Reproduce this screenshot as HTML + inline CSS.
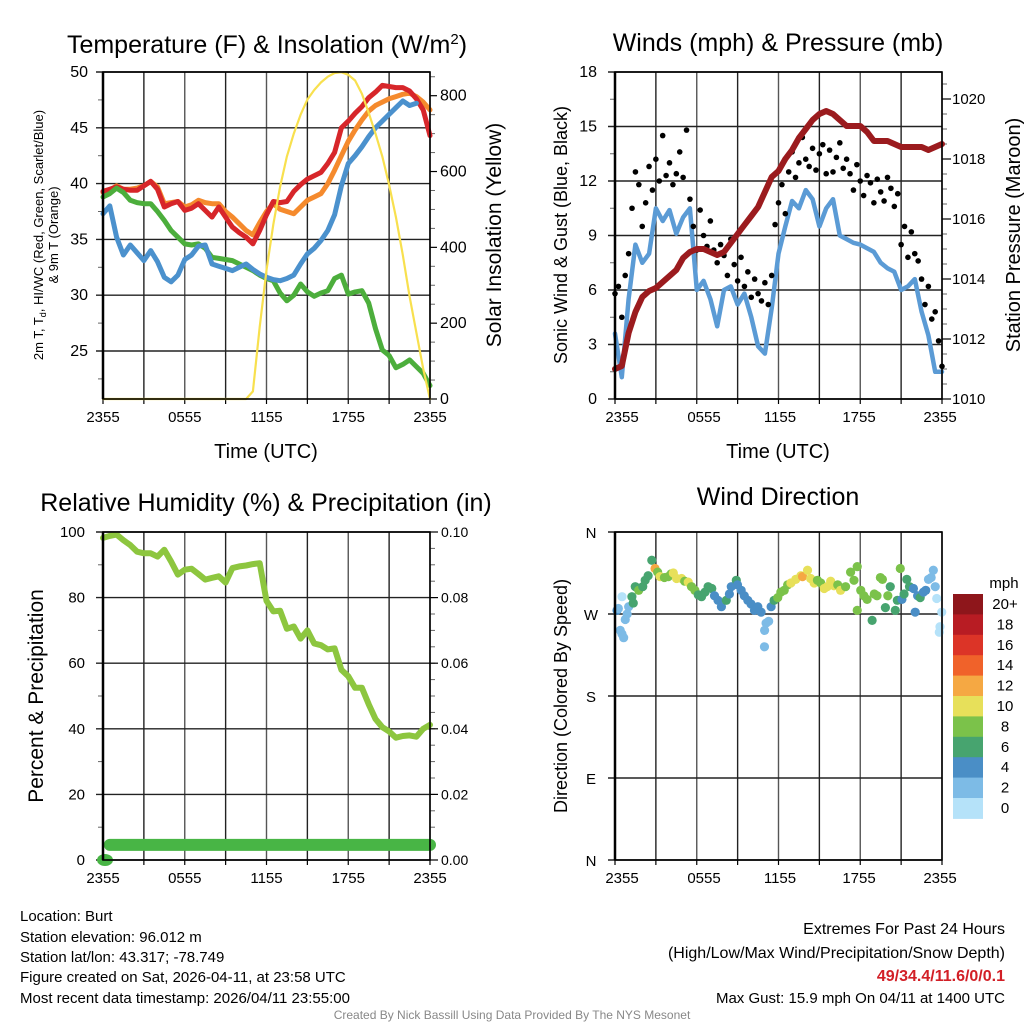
<!DOCTYPE html>
<html><head><meta charset="utf-8"><style>
html,body{margin:0;padding:0;background:#fff}
svg{display:block;font-family:"Liberation Sans",sans-serif}
</style></head><body>
<svg id="fig" width="1024" height="1024" viewBox="0 0 1024 1024" xmlns="http://www.w3.org/2000/svg">
<rect width="1024" height="1024" fill="#fff"/>
<text x="267" y="53" font-size="25" text-anchor="middle">Temperature (F) &amp; Insolation (W/m<tspan dy="-9" font-size="15">2</tspan><tspan dy="9">)</tspan></text>
<text x="778" y="51" font-size="25" text-anchor="middle">Winds (mph) &amp; Pressure (mb)</text>
<text x="266" y="511" font-size="25" text-anchor="middle">Relative Humidity (%) &amp; Precipitation (in)</text>
<text x="778" y="505" font-size="25" text-anchor="middle">Wind Direction</text>
<text x="266" y="458" font-size="20" text-anchor="middle">Time (UTC)</text>
<text x="778" y="458" font-size="20" text-anchor="middle">Time (UTC)</text>
<text transform="translate(43,235) rotate(-90)" font-size="13" text-anchor="middle">2m T, T<tspan font-size="9" dy="3">d</tspan><tspan dy="-3">, HI/WC (Red, Green, Scarlet/Blue)</tspan></text>
<text transform="translate(58,235) rotate(-90)" font-size="13" text-anchor="middle">&amp; 9m T (Orange)</text>
<text transform="translate(501,235) rotate(-90)" font-size="21" text-anchor="middle">Solar Insolation (Yellow)</text>
<text transform="translate(567,235) rotate(-90)" font-size="18" text-anchor="middle">Sonic Wind &amp; Gust (Blue, Black)</text>
<text transform="translate(1020,235) rotate(-90)" font-size="20" text-anchor="middle">Station Pressure (Maroon)</text>
<text transform="translate(43,696) rotate(-90)" font-size="21" text-anchor="middle">Percent &amp; Precipitation</text>
<text transform="translate(567,696) rotate(-90)" font-size="18" text-anchor="middle">Direction (Colored By Speed)</text>
<g font-size="15">
<text x="20" y="921">Location: Burt</text>
<text x="20" y="942">Station elevation: 96.012 m</text>
<text x="20" y="962">Station lat/lon: 43.317; -78.749</text>
<text x="20" y="982">Figure created on Sat, 2026-04-11, at 23:58 UTC</text>
<text x="20" y="1003">Most recent data timestamp: 2026/04/11 23:55:00</text>
</g>
<g font-size="16" text-anchor="end">
<text x="1005" y="934">Extremes For Past 24 Hours</text>
<text x="1005" y="958">(High/Low/Max Wind/Precipitation/Snow Depth)</text>
<text x="1005" y="981" fill="#d21f26" font-weight="bold">49/34.4/11.6/0/0.1</text>
<text x="1005" y="1003" font-size="15">Max Gust: 15.9 mph On 04/11 at 1400 UTC</text>
</g>
<text x="512" y="1019" font-size="12" fill="#888" text-anchor="middle">Created By Nick Bassill Using Data Provided By The NYS Mesonet</text>
</svg>
<script>
// ---------- data ----------
const xTickLabels = ["2355","0555","1155","1755","2355"];
const tempTicks = [25,30,35,40,45,50];
const insolTicks = [0,200,400,600,800];
const windTicks = [0,3,6,9,12,15,18];
const presTicks = [1010,1012,1014,1016,1018,1020];
const rhTicks = [0,20,40,60,80,100];
const precipTicks = ["0.00","0.02","0.04","0.06","0.08","0.10"];
const dirTickLabels = ["N","E","S","W","N"];
const speedBinLabels = ["0","2","4","6","8","10","12","14","16","18","20+"];

const tempRed = [39.3,39.5,39.7,39.5,39.4,39.4,39.8,40.2,39.5,37.9,38.2,38.4,37.6,37.8,38.2,37.6,37,37.9,37,36.1,35.6,35.2,34.6,35.8,37.2,38.4,38.3,38.4,39.3,39.9,40.4,40.7,41,41.8,42.8,45,45.6,46.3,46.9,47.7,48.2,48.8,48.7,48.6,48.6,48.3,47.6,46.6,44.3];
const temp9m = [39.2,39.4,39.8,39.5,39.5,39.6,39.8,40.2,39.7,38.2,38.3,38.4,37.9,38.1,38.5,38.3,38.2,38.2,37.5,37,36.4,35.8,35.4,36.5,37.5,38.2,37.7,37.5,37.3,37.9,38.5,38.8,39.1,40,41.2,42.5,43.8,44.8,45.7,46.5,47,47.3,47.6,47.8,48,48.1,47.8,47.3,46.6];
const dewpoint = [38.8,39.1,39.6,39.2,38.5,38.3,38.2,38.2,37.5,36.7,35.8,35.2,34.6,34.5,34.6,34.2,33.4,33.3,33.2,33.1,32.8,32.5,32.2,31.8,31.5,31.3,30.2,29.5,30,31,30.3,29.9,30.2,30.4,31.5,31.8,30.1,30.3,30.4,29.3,27,25.1,24.6,23.5,23.8,24.2,23.6,23,21.9];
const windChill = [37.3,38,35.2,33.6,34.5,33.8,33.1,34,33,31.6,31.2,31.8,33.2,33.6,34.4,34.5,32.8,32.6,32.4,32.2,32.5,32.8,32.3,31.9,31.6,31.4,31.3,31.5,31.8,32.8,33.7,34.2,34.9,35.8,37.2,39.8,41.8,42.5,43.3,44.2,45,45.6,46.2,46.8,47.4,47,47.2];
const insolation = [0,0,0,0,0,0,0,0,0,0,0,0,0,0,0,0,0,0,0,0,0,0,20,190,340,460,560,640,700,750,790,815,835,850,860,862,855,840,805,755,700,640,565,480,380,270,175,80,0];

const windSpeed = [3.6,1.2,5.5,8.5,7.5,8,10.5,9.8,10.4,9.1,10,10.5,6,6.5,5.5,4,6,6.2,5.2,5.8,4.5,2.9,2.5,5,8,9.5,10.9,10.5,11.5,11,9.5,10.5,11,9,8.8,8.6,8.5,8.3,8.1,7.5,7.2,7,6,6.2,6.6,4.8,3.5,1.5,1.5];
const gusts = [5.8,6.2,4.5,6.8,8,10.5,12.5,11.8,9.5,10.8,12.8,11.5,13.2,12,14.5,12.3,13,11.8,12.4,13.6,12.2,14.8,11,9.5,8.2,10.4,9,8.4,9.8,8.2,7.5,8.5,7.9,6.8,8.8,7.4,6.5,7.8,6.2,7,5.6,6.6,5.8,5.4,6.4,5.2,6.8,9.6,10.8,11.8,10.2,12.5,13.6,12.2,13,14.4,13.2,12.8,13.8,12.6,13.5,14.0,12.4,13.7,12.5,13.3,14.1,12.7,13.2,12.4,11.5,12.9,12,11.2,12.3,11.9,10.8,12.1,11.4,10.9,12.2,11.6,10.6,11.3,8.5,9.5,7.8,9.2,8,7.6,6.6,5.2,6.2,4.4,4.8,3.2,1.8];
const pressure = [1011.0,1011.1,1012.2,1012.9,1013.4,1013.6,1013.7,1013.9,1014.1,1014.3,1014.7,1014.9,1015,1015,1014.9,1014.8,1014.9,1015.2,1015.5,1015.8,1016.1,1016.4,1016.9,1017.4,1017.6,1018.0,1018.3,1018.7,1019.0,1019.3,1019.5,1019.6,1019.5,1019.3,1019.1,1019.1,1019.1,1018.9,1018.6,1018.6,1018.6,1018.5,1018.4,1018.4,1018.4,1018.4,1018.3,1018.4,1018.5];

const rh = [98.2,98.8,99.2,97.5,96,94,93.5,93.5,92.5,94.6,91,87,88.5,88.8,87.2,85.5,86,86.5,84.6,89,89.5,89.8,90.2,90.5,79,75.8,76,70.5,71.2,67.5,70,66,65.5,64.2,64.5,58,56,52.5,52.5,47.5,43,40.5,39.2,37.3,37.8,38,37.6,40,41.2];
const precip = [0,0.0046,0.0046,0.0046,0.0046,0.0046,0.0046,0.0046,0.0046,0.0046,0.0046,0.0046,0.0046,0.0046,0.0046,0.0046,0.0046,0.0046,0.0046,0.0046,0.0046,0.0046,0.0046,0.0046,0.0046,0.0046,0.0046,0.0046,0.0046,0.0046,0.0046,0.0046,0.0046,0.0046,0.0046,0.0046,0.0046,0.0046,0.0046,0.0046,0.0046,0.0046,0.0046,0.0046,0.0046,0.0046,0.0046,0.0046,0.0046];

const dirHours = [0,0.1,0.24,0.37,0.49,0.61,0.37,0.86,0.75,1.1,1.2,1.35,1.6,1.9,2.08,2.3,2.57,2.81,3.0,3.18,3.5,3.79,4.0,4.16,4.4,4.77,5.0,5.26,5.5,5.75,6.0,6.24,6.5,6.73,7.0,7.2,7.46,7.71,8.07,8.3,8.44,8.81,8.9,9.17,9.4,9.66,9.9,10.15,10.4,10.64,10.89,11.01,10.9,11.2,11.38,11.6,11.87,12.1,12.35,12.6,12.84,13.2,13.58,13.7,14.07,14.3,14.56,14.8,15.05,15.3,15.53,15.78,16.02,16.3,16.51,16.88,17.25,17.5,17.74,17.74,18.0,18.23,18.47,18.84,19.0,19.2,19.45,19.6,19.82,20.0,20.18,20.55,20.7,20.92,21.04,21.2,21.4,21.6,21.89,22.02,22.2,22.39,22.63,22.8,23.0,23.2,23.36,23.5,23.61,23.85,23.98,23.8];
const dirValues = [274,276,252,248,244,264,289,278,270,289,282,300,296,300,307,312,329,320,316,311,310,311,314,315,309,309,306,305,300,296,291,289,294,300,298,290,285,278,285,292,300,307,302,296,290,285,281,274,278,272,234,260,252,262,278,285,288,294,296,302,304,308,312,311,318,309,304,307,304,298,300,306,301,302,296,300,316,307,322,274,296,290,286,263,292,290,310,308,277,290,300,274,285,320,286,292,308,300,298,272,290,288,294,296,308,310,318,300,287,256,272,250];
const dirSpeeds = [4.5,3,2.5,2.5,2.5,2.5,1,3,2.5,7,6.5,7,8,7,6.5,7,7.5,12.5,8,10.5,8.5,9,9,10.5,10,10.5,9,10.5,8,8.5,7,6.5,7,6.5,6.5,5,5,4.5,6.5,5,5,6.5,5,4.5,4,5,4,5,4,5,3,2.5,3,3,4.5,7,8.5,8,8.5,9,10.5,10.5,10.5,12.5,10.5,10.5,10.5,8,9,10.5,10.5,10.5,11,8.5,10.5,8.5,8.5,8,8.5,9,8,8,9,6.5,9,9,8.5,8,6.5,8,6.5,6.5,7,8,5,6.5,6.5,7,5,5,4,6.5,5,4,3,3,3,3,1,1,1,1];
const speedColors = ["#b5e2f9","#7dbbe6","#4a8ec6","#47a46f","#7bc24a","#e7e05a","#f5a843","#f0622a","#dc3427","#b81c23","#8e161b"];

// ---------- helpers ----------
const NS = "http://www.w3.org/2000/svg";
const svg = document.getElementById("fig");
function mk(tag, attrs, parent){
  const el = document.createElementNS(NS, tag);
  for (const k in attrs) el.setAttribute(k, attrs[k]);
  (parent || svg).appendChild(el);
  return el;
}
function lin(d0,d1,r0,r1){ return v => r0 + (v-d0)/(d1-d0)*(r1-r0); }

function frame(P, name){
  const g = mk("g", {});
  
  
  for (let k=0;k<=8;k++){
    const x = P.x0 + k*(P.x1-P.x0)/8;
    const l = mk("line",{x1:x,y1:P.y0,x2:x,y2:P.y1,stroke:(k%2? "#222":"#555"),"stroke-width":1.4},g);
    
    
    const t = mk("line",{x1:x,y1:P.y1,x2:x,y2:P.y1+5,stroke:"#000","stroke-width":1.2},g);
    
    
  }
  return g;
}
function hgrid(P, ys, name){
  ys.forEach(y=>{
    const l = mk("line",{x1:P.x0-7,y1:y,x2:P.x1,y2:y,stroke:"#222","stroke-width":1.4});
    
    
  });
}
function border(P, name){
  const r = mk("rect",{x:P.x0,y:P.y0,width:P.x1-P.x0,height:P.y1-P.y0,fill:"none",stroke:"#000","stroke-width":1.6});
  
  
  const l = mk("line",{x1:P.x0,y1:P.y0,x2:P.x0,y2:P.y1,stroke:"#000","stroke-width":2.5});
  
  
}
function label(x,y,txt,anchor,name,size){
  const t = mk("text",{x:x,y:y,"font-size":size||15,"text-anchor":anchor});
  t.textContent = txt;
  
  
  return t;
}
function xlabels(P, positions, name){
  xTickLabels.forEach((s,k)=>{
    label(positions ? positions[k] : P.x0 + k*(P.x1-P.x0)/4, P.y1+23, s, "middle", name+'-x-tick-label');
  });
}
function minorTicks(x, ys, dir, name){
  ys.forEach(y=>{
    const l = mk("line",{x1:x,y1:y,x2:x+dir*5,y2:y,stroke:"#666","stroke-width":1});
    
    
  });
}
function polyline(pts, color, w, name){
  const p = mk("polyline",{points:pts.map(q=>q[0].toFixed(1)+","+q[1].toFixed(1)).join(" "),fill:"none",stroke:color,"stroke-width":w,"stroke-linejoin":"round","stroke-linecap":"round"});
  
  
  return p;
}

// ---------- Panel 1: temperature ----------
const P1 = {x0:103,x1:430,y0:72,y1:399};
const t1x = lin(0,48,P1.x0,P1.x1);
const t1y = lin(25,50,351,72);
const i1y = lin(0,800,399,95.7);
frame(P1,'temp');
hgrid(P1, tempTicks.map(t1y), 'temp');
minorTicks(P1.x0, [22.5,27.5,32.5,37.5,42.5,47.5].map(t1y), -1, 'temp-minor-tick');
minorTicks(P1.x1, [50,100,150,250,300,350,450,500,550,650,700,750,850].map(i1y), 1, 'insolation-minor-tick');
tempTicks.forEach(v=>label(88, t1y(v)+5, String(v), "end", 'temp-y-tick-label', 16));
insolTicks.forEach(v=>{ label(440, i1y(v)+5, String(v), "start", 'insolation-y-tick-label', 16);
  const l = mk("line",{x1:P1.x1,y1:i1y(v),x2:P1.x1+7,y2:i1y(v),stroke:"#000","stroke-width":1.2});
  
  
});
xlabels(P1, null, 'temp');
polyline(temp9m.map((v,i)=>[t1x(i),t1y(v)]), "#f58a2d", 5, 'series-9m-temp-orange');
polyline(tempRed.map((v,i)=>[t1x(i),t1y(v)]), "#d7262a", 5, 'series-2m-temp-red');
polyline(dewpoint.map((v,i)=>[t1x(i),t1y(v)]), "#4cae3c", 5, 'series-dewpoint-green');
polyline(windChill.map((v,i)=>[t1x(i),t1y(v)]), "#4b91cd", 5, 'series-windchill-blue');
polyline(insolation.map((v,i)=>[t1x(i),i1y(v)]), "#f8e04e", 2.2, 'series-insolation-yellow');
border(P1,'temp');

// ---------- Panel 2: winds & pressure ----------
const P2 = {x0:615,x1:942,y0:72,y1:399};
const w2x = lin(0,48,P2.x0,P2.x1);
const g2x = lin(0,96,P2.x0,P2.x1);
const w2y = lin(0,18,399,72);
const p2y = lin(1010,1020,399,99);
frame(P2,'wind');
hgrid(P2, windTicks.map(w2y), 'wind');
minorTicks(P2.x0, [1.5,4.5,7.5,10.5,13.5,16.5].map(w2y), -1, 'wind-minor-tick');
const pm=[]; for(let k=0;k<=21;k++){ pm.push(1010+k*0.5); }
minorTicks(P2.x1, pm.map(p2y), 1, 'pressure-minor-tick');
windTicks.forEach(v=>label(597, w2y(v)+5, String(v), "end", 'wind-y-tick-label', 16));
presTicks.forEach(v=>{ label(952, p2y(v)+5, String(v), "start", 'pressure-y-tick-label', 15);
  const l = mk("line",{x1:P2.x1,y1:p2y(v),x2:P2.x1+9,y2:p2y(v),stroke:"#000","stroke-width":1.2});
  
  
});
xlabels(P2, [622,704,780,859,940], 'wind');
polyline(windSpeed.map((v,i)=>[w2x(i),w2y(v)]), "#5b9bd5", 4.5, 'series-wind-speed-blue');
gusts.forEach((v,j)=>{
  const c = mk("circle",{cx:g2x(j),cy:w2y(v),r:2.8,fill:"#000"});
  
  
});
polyline(pressure.map((v,i)=>[w2x(i),p2y(v)]), "#9b1b1e", 6, 'series-pressure-maroon');
border(P2,'wind');

// ---------- Panel 3: RH & precip ----------
const P3 = {x0:103,x1:430,y0:532,y1:860};
const r3x = lin(0,48,P3.x0,P3.x1);
const r3y = lin(0,100,860,532);
const pr3y = lin(0,0.1,860,532);
frame(P3,'rh');
hgrid(P3, rhTicks.map(r3y), 'rh');
minorTicks(P3.x0, [10,30,50,70,90].map(r3y), -1, 'rh-minor-tick');
const prm=[]; for(let k=0;k<=20;k++){ prm.push(k*0.005); }
minorTicks(P3.x1, prm.map(pr3y), 1, 'precip-minor-tick');
rhTicks.forEach(v=>label(85, r3y(v)+5, String(v), "end", 'rh-y-tick-label', 15));
precipTicks.forEach(s=>{ const v=parseFloat(s); label(441, pr3y(v)+5, s, "start", 'precip-y-tick-label', 14);
  const l = mk("line",{x1:P3.x1,y1:pr3y(v),x2:P3.x1+8,y2:pr3y(v),stroke:"#000","stroke-width":1.2});
  
  
});
xlabels(P3, null, 'rh');
polyline(rh.map((v,i)=>[r3x(i),r3y(v)]), "#8dc63f", 6, 'series-relative-humidity');
const wet = precip.map((v,i)=>[i,v]).filter(q=>q[1]>0);
polyline(wet.map(q=>[r3x(q[0]),pr3y(q[1])]), "#48b545", 12, 'series-precipitation');
precip.forEach((v,i)=>{ if(v===0){
  const e = mk("ellipse",{cx:r3x(i)+2,cy:pr3y(v),rx:8,ry:6,fill:"#48b545"});
  
  
}});
border(P3,'rh');

// ---------- Panel 4: wind direction ----------
const P4 = {x0:615,x1:942,y0:532,y1:860};
const d4x = lin(0,24,P4.x0+2,P4.x1);
const d4y = lin(0,360,860,532);
frame(P4,'direction');
hgrid(P4, [0,90,180,270,360].map(d4y), 'direction');
dirTickLabels.forEach((s,k)=>label(591, d4y(k*90)+6, s, "middle", 'direction-y-tick-label', 15));
xlabels(P4, [622,704,780,859,940], 'direction');
function binColor(s){ let b = Math.floor(s/2); if(b>10) b=10; if(b<0) b=0; return speedColors[b]; }
dirHours.forEach((h,k)=>{
  const c = mk("circle",{cx:d4x(h),cy:d4y(dirValues[k]),r:4.6,fill:binColor(dirSpeeds[k])});
  
  
});
border(P4,'direction');

// colorbar
label(1004, 588, "mph", "middle", 'colorbar-title', 15);
const cbTop = 594, cbH = 20.4;
speedColors.forEach((col,k)=>{
  const idx = 10-k;
  const r = mk("rect",{x:953,y:cbTop+k*cbH,width:30,height:cbH+0.5,fill:speedColors[idx]});
  
  
  label(1005, cbTop+k*cbH+15, speedBinLabels[idx], "middle", 'colorbar-label', 15);
});
</script>
</body></html>
